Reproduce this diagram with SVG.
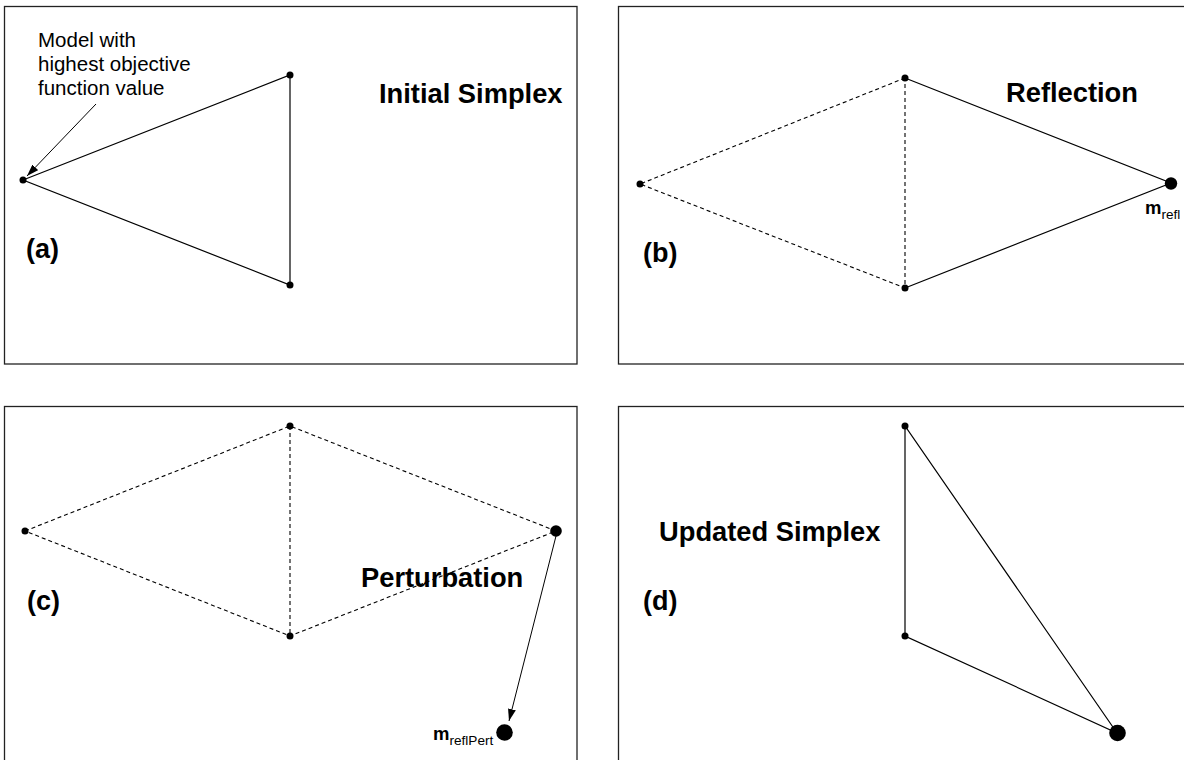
<svg xmlns="http://www.w3.org/2000/svg" width="1184" height="760" viewBox="0 0 1184 760">
<style>
.panel{fill:#fff;stroke:#222;stroke-width:1.3}
.solid{stroke:#000;stroke-width:1.2;fill:none}
.dash{stroke:#000;stroke-width:1.1;fill:none;stroke-dasharray:4 3}
.dot{fill:#000}
.big{font-family:"Liberation Sans",Arial,sans-serif;font-weight:bold;font-size:27.3px;fill:#000}
.lab{font-family:"Liberation Sans",Arial,sans-serif;font-weight:bold;font-size:27px;fill:#000}
.note{font-family:"Liberation Sans",Arial,sans-serif;font-size:20.5px;fill:#000}
.m{font-family:"Liberation Sans",Arial,sans-serif;font-weight:bold;font-size:18.5px;fill:#000}
.sub{font-family:"Liberation Sans",Arial,sans-serif;font-weight:normal;font-size:13.6px}
.arr{stroke:#000;stroke-width:1;fill:none;marker-end:url(#ah)}
</style>
<defs>
<marker id="ah" viewBox="0 0 12 8" refX="12" refY="4" markerWidth="12" markerHeight="8" markerUnits="userSpaceOnUse" orient="auto">
<path d="M0,0 L12,4 L0,8 Z" fill="#000"/>
</marker>
</defs>
<rect width="1184" height="760" fill="#fff"/>
<g id="panel-a">
<rect class="panel" x="4.5" y="6.5" width="572.5" height="357.5"/>
<text class="note" x="38" y="47">Model with</text>
<text class="note" x="38" y="71">highest objective</text>
<text class="note" x="38" y="95">function value</text>
<text class="big" x="379" y="103">Initial Simplex</text>
<text class="lab" x="26" y="258">(a)</text>
</g>
<g id="panel-b">
<rect class="panel" x="618.5" y="6.5" width="580" height="357.5"/>
<text class="big" x="1006" y="102">Reflection</text>
<text class="lab" x="643" y="262">(b)</text>
<text class="m" x="1145" y="214">m<tspan class="sub" dy="5">refl</tspan></text>
</g>
<g id="panel-c">
<rect class="panel" x="4.5" y="406.5" width="572.5" height="370"/>
<text class="lab" x="27" y="610">(c)</text>
<text class="big" x="361" y="587">Perturbation</text>
<text class="m" x="433" y="740">m<tspan class="sub" dy="5">reflPert</tspan></text>
</g>
<g id="panel-d">
<rect class="panel" x="618.5" y="406.5" width="580" height="370"/>
<text class="big" x="659" y="541">Updated Simplex</text>
<text class="lab" x="643" y="610">(d)</text>
</g>
<g id="connectors">
<polygon class="solid" points="23,180 290,75 290,285"/>
<line class="arr" x1="96" y1="104" x2="27" y2="176"/>
<polyline class="dash" points="905,78 640,184 905,288 905,78"/>
<polyline class="solid" points="905,78 1171,183 905,288"/>
<polygon class="dash" points="25,531 290,426 556,531 290,636"/>
<line class="arr" x1="556" y1="536" x2="509" y2="721"/>
<line class="dash" x1="290" y1="426" x2="290" y2="636"/>
<polygon class="solid" points="905,426 905,636 1117,733"/>
</g>
<g id="points">
<circle class="dot" cx="23" cy="180" r="3.5"/>
<circle class="dot" cx="290" cy="75" r="3.5"/>
<circle class="dot" cx="290" cy="285" r="3.5"/>
<circle class="dot" cx="640" cy="184" r="3.5"/>
<circle class="dot" cx="905" cy="78" r="3.5"/>
<circle class="dot" cx="905" cy="288" r="3.5"/>
<circle class="dot" cx="1171" cy="183.5" r="6.2"/>
<circle class="dot" cx="25" cy="531" r="3.5"/>
<circle class="dot" cx="290" cy="426" r="3.5"/>
<circle class="dot" cx="290" cy="636" r="3.5"/>
<circle class="dot" cx="556" cy="531" r="5.8"/>
<circle class="dot" cx="504.5" cy="732.5" r="8.3"/>
<circle class="dot" cx="905" cy="426" r="3.5"/>
<circle class="dot" cx="905" cy="636" r="3.5"/>
<circle class="dot" cx="1117.5" cy="733" r="8.3"/>
</g>
</svg>
